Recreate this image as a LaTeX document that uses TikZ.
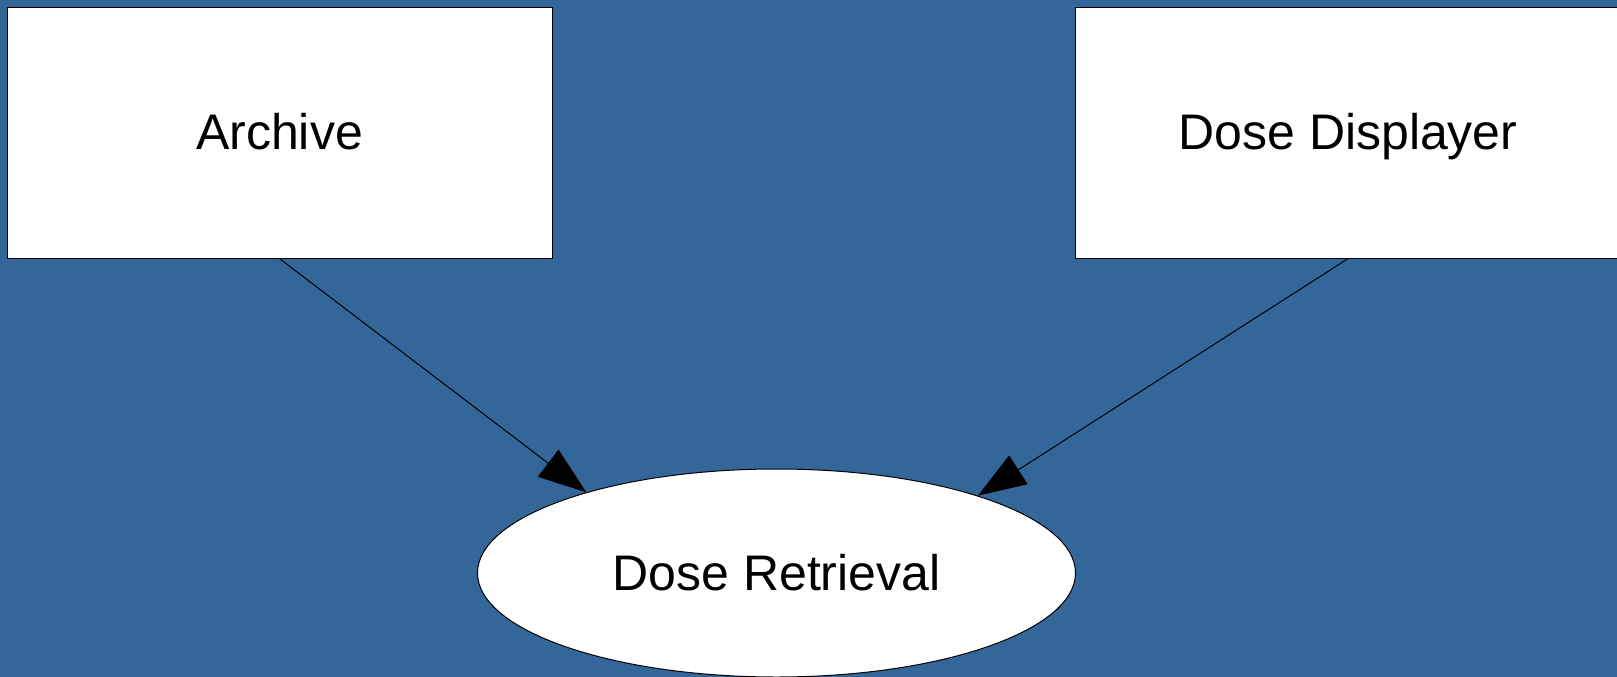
\documentclass[tikz,border=0pt]{standalone}
\usepackage{fontspec}
\setmainfont{Liberation Sans}
\definecolor{BgBlue}{HTML}{336699}
\usetikzlibrary{shapes.geometric, arrows.meta}

\tikzset{
	block/.style={draw=black, fill=white, line width=1pt, shape=rectangle,
		minimum width=545pt, minimum height=251pt, inner sep=0pt,
		font=\fontsize{50}{60}\selectfont, text height=33pt, text depth=0pt},
	usecase/.style={draw=black, fill=white, line width=1pt, shape=ellipse,
		minimum width=598pt, minimum height=208pt, inner sep=0pt,
		font=\fontsize{50}{60}\selectfont, text height=35pt, text depth=0pt},
	link/.style={draw=black, line width=1pt,
		-{Triangle[length=48pt, width=34pt]}},
}

\begin{document}
\begin{tikzpicture}[x=1pt, y=1pt]
	\fill[BgBlue] (0,0) rectangle (1617,-677);
	\useasboundingbox (0,0) rectangle (1617,-677);
	\node (archive) at (279.5,-132.6) [block] {Archive};
	\node (displayer) at (1348,-132.6) [block] {Dose Displayer};
	\node (retrieval) at (776.5,-573) [usecase] {Dose Retrieval};
	\draw[link] (archive.south) -- (retrieval.157);
	\draw[link] (displayer.south) -- (retrieval.21);
\end{tikzpicture}
\end{document}
